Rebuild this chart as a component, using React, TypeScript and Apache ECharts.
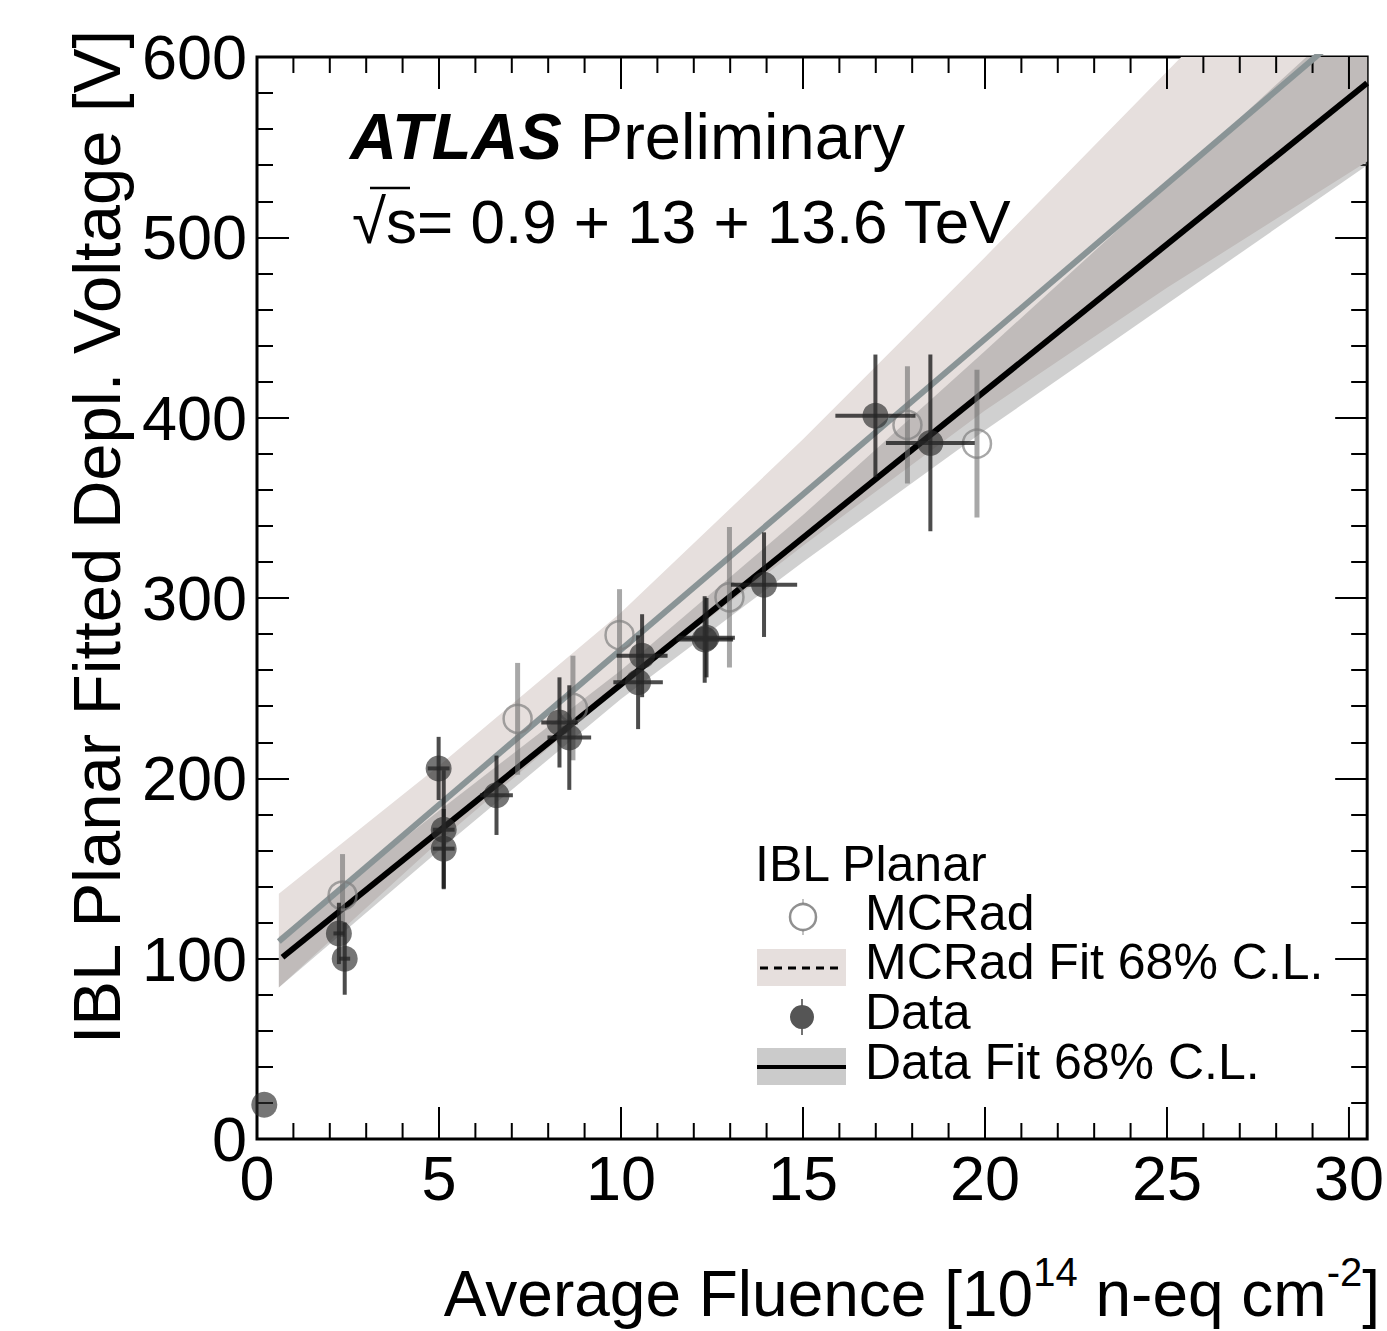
import React, { useEffect, useRef } from 'react';
import * as echarts from 'echarts';

const W = 1387;
const H = 1331;
const FONT = "'Liberation Sans', Arial, Helvetica, sans-serif";

// ---- data ----
// Data (filled markers)
const dataX = [0.2, 2.25, 2.41, 4.99, 5.13, 5.13, 6.58, 8.31, 8.58, 10.47, 10.58, 12.3, 12.35, 13.93, 16.99, 18.5];
const dataY = [19, 114, 100, 205.5, 171.5, 161, 190.6, 231, 222.6, 253.3, 268, 277, 278, 307.4, 401, 386];
const dataYErr = [0, 17, 20, 17.5, 33, 22, 22, 25, 29, 26, 23, 24, 22, 29, 34, 49];
const dataXErr = [0, 0.15, 0.15, 0.3, 0.3, 0.3, 0.45, 0.5, 0.6, 0.68, 0.7, 0.78, 0.78, 0.91, 1.1, 1.22];

// MCRad (open markers)
const mcX = [2.35, 7.16, 8.68, 9.96, 12.98, 17.87, 19.78];
const mcY = [135, 233, 239, 279.4, 300.4, 396, 385.6];
const mcYErr = [23, 31, 29, 25.5, 39, 32.5, 41];

// Fit lines (end points)
const dataFitX = [0.7, 30.5];
const dataFitY = [100.8, 585.6];
const mcFitX = [0.6, 30.5];
const mcFitY = [109.5, 624.4];

// 68% C.L. bands
const bandX = [0.6, 5, 10, 15, 20, 25, 30.5];
const mcUpper = [136, 207, 292, 388, 489, 592, 705];
const mcLower = [84, 165, 251, 329, 404, 472, 542];
const dataUpper = [112, 182, 260, 346, 437, 529, 631];
const dataLower = [84, 160, 244, 320, 393, 463, 540];

// axes
const xMin = 0;
const xMax = 30.5;
const yMin = 0;
const yMax = 600;
const xTickValues: number[] = [];
for (let v = 0; v <= 30; v += 1) xTickValues.push(v);

function clipPoly(pts: number[][], x0: number, y0: number, x1: number, y1: number) {
  const planes = [
    { inside: (p: number[]) => p[0] >= x0, inter: (a: number[], b: number[]) => { const t = (x0 - a[0]) / (b[0] - a[0]); return [x0, a[1] + t * (b[1] - a[1])]; } },
    { inside: (p: number[]) => p[0] <= x1, inter: (a: number[], b: number[]) => { const t = (x1 - a[0]) / (b[0] - a[0]); return [x1, a[1] + t * (b[1] - a[1])]; } },
    { inside: (p: number[]) => p[1] >= y0, inter: (a: number[], b: number[]) => { const t = (y0 - a[1]) / (b[1] - a[1]); return [a[0] + t * (b[0] - a[0]), y0]; } },
    { inside: (p: number[]) => p[1] <= y1, inter: (a: number[], b: number[]) => { const t = (y1 - a[1]) / (b[1] - a[1]); return [a[0] + t * (b[0] - a[0]), y1]; } },
  ];
  let out = pts;
  for (const pl of planes) {
    const inp = out;
    out = [];
    if (!inp.length) break;
    for (let i = 0; i < inp.length; i++) {
      const cur = inp[i];
      const prev = inp[(i + inp.length - 1) % inp.length];
      const ci = pl.inside(cur);
      const pi = pl.inside(prev);
      if (ci) {
        if (!pi) out.push(pl.inter(prev, cur));
        out.push(cur);
      } else if (pi) {
        out.push(pl.inter(prev, cur));
      }
    }
  }
  return out;
}

function bandSeries(upper: number[], lower: number[], fill: string, z: number) {
  return {
    type: 'custom',
    silent: true,
    z,
    data: [[bandX[0], upper[0]]],
    renderItem: (params: any, api: any) => {
      const cs = params.coordSys;
      const up = bandX.map((x, i) => api.coord([x, upper[i]]));
      const lo = bandX.map((x, i) => api.coord([x, lower[i]])).reverse();
      const pts = clipPoly(up.concat(lo), cs.x, cs.y, cs.x + cs.width, cs.y + cs.height);
      return { type: 'polygon', shape: { points: pts }, style: { fill } };
    },
  };
}

function errSeries(xs: number[], ys: number[], xe: number[], ye: number[], color: string, width: number, z: number) {
  return {
    type: 'custom',
    silent: true,
    clip: false,
    z,
    data: xs.map((x, i) => [x, ys[i], xe[i], ye[i]]),
    renderItem: (_params: any, api: any) => {
      const x = api.value(0);
      const y = api.value(1);
      const ex = api.value(2);
      const ey = api.value(3);
      const children: any[] = [];
      if (ey > 0) {
        const a = api.coord([x, y - ey]);
        const b = api.coord([x, y + ey]);
        children.push({ type: 'line', shape: { x1: a[0], y1: a[1], x2: b[0], y2: b[1] }, style: { stroke: color, lineWidth: width } });
      }
      if (ex > 0) {
        const a = api.coord([x - ex, y]);
        const b = api.coord([x + ex, y]);
        children.push({ type: 'line', shape: { x1: a[0], y1: a[1], x2: b[0], y2: b[1] }, style: { stroke: color, lineWidth: width } });
      }
      return { type: 'group', children };
    },
  };
}

const legendX = 757;
const legendTextX = 865;
const LEG_FS = 50;
const LEG_LH = 44;

function legendText(text: string, x: number, y: number) {
  return {
    type: 'text',
    x,
    y,
    z: 20,
    style: { text, fontSize: LEG_FS, lineHeight: LEG_LH, fontFamily: FONT, fill: '#000', verticalAlign: 'middle', textVerticalAlign: 'middle' },
  };
}

const option: any = {
  animation: false,
  backgroundColor: '#ffffff',
  grid: { left: 257, top: 57, right: 7, bottom: 192, show: true, borderColor: '#000', borderWidth: 3, backgroundColor: 'transparent' },
  xAxis: {
    type: 'value',
    min: xMin,
    max: xMax,
    interval: 5,
    axisLine: { show: false },
    axisTick: { show: false },
    minorTick: { show: false },
    splitLine: { show: false },
    axisLabel: {
      fontSize: 63,
      fontFamily: FONT,
      color: '#000',
      margin: 7,
      formatter: (v: number) => (Math.abs(v % 5) < 1e-9 ? String(v) : ''),
    },
  },
  yAxis: [
    {
      type: 'value',
      min: yMin,
      max: yMax,
      interval: 100,
      axisLine: { show: false },
      axisTick: { show: true, inside: true, length: 32, lineStyle: { color: '#000', width: 2 } },
      minorTick: { show: true, splitNumber: 5, length: 16, lineStyle: { color: '#000', width: 2 } },
      splitLine: { show: false },
      minorSplitLine: { show: false },
      axisLabel: { fontSize: 63, fontFamily: FONT, color: '#000', margin: 10 },
    },
    {
      type: 'value',
      position: 'right',
      min: yMin,
      max: yMax,
      interval: 100,
      axisLine: { show: false },
      axisTick: { show: true, inside: true, length: 32, lineStyle: { color: '#000', width: 2 } },
      minorTick: { show: true, splitNumber: 5, length: 16, lineStyle: { color: '#000', width: 2 } },
      splitLine: { show: false },
      axisLabel: { show: false },
    },
  ],
  series: [
    bandSeries(mcUpper, mcLower, '#e6dfdd', 1),
    bandSeries(dataUpper, dataLower, 'rgba(124,124,124,0.36)', 2),
    {
      type: 'custom',
      silent: true,
      clip: false,
      z: 3,
      data: xTickValues.map((v) => [v, v % 5 === 0 ? 1 : 0]),
      renderItem: (_params: any, api: any) => {
        const v = api.value(0);
        const major = api.value(1);
        const b = api.coord([v, yMin]);
        const t = api.coord([v, yMax]);
        const len = major ? 32 : 16;
        return {
          type: 'group',
          children: [
            { type: 'line', shape: { x1: b[0], y1: b[1], x2: b[0], y2: b[1] - len }, style: { stroke: '#000', lineWidth: 2 } },
            { type: 'line', shape: { x1: t[0], y1: t[1], x2: t[0], y2: t[1] + len }, style: { stroke: '#000', lineWidth: 2 } },
          ],
        };
      },
    },
    {
      type: 'line',
      z: 4,
      silent: true,
      symbol: 'none',
      data: mcFitX.map((x, i) => [x, mcFitY[i]]),
      lineStyle: { color: '#8a9496', width: 6 },
    },
    {
      type: 'line',
      z: 5,
      silent: true,
      symbol: 'none',
      data: dataFitX.map((x, i) => [x, dataFitY[i]]),
      lineStyle: { color: '#000', width: 6 },
    },
    errSeries(mcX, mcY, mcX.map(() => 0), mcYErr, 'rgba(110,110,110,0.6)', 5, 6),
    {
      type: 'scatter',
      z: 7,
      silent: true,
      clip: false,
      symbol: 'circle',
      symbolSize: 28,
      data: mcX.map((x, i) => [x, mcY[i]]),
      itemStyle: { color: 'rgba(0,0,0,0)', borderColor: 'rgba(125,125,125,0.85)', borderWidth: 2.5 },
    },
    errSeries(dataX, dataY, dataXErr, dataYErr, 'rgba(25,25,25,0.78)', 4, 8),
    {
      type: 'scatter',
      z: 9,
      silent: true,
      clip: false,
      symbol: 'circle',
      symbolSize: 26,
      data: dataX.map((x, i) => [x, dataY[i]]),
      itemStyle: { color: 'rgba(45,45,45,0.82)' },
    },
  ],
  graphic: [
    // axis titles
    {
      type: 'text',
      x: 1380,
      y: 1294,
      z: 20,
      style: {
        text: '{m|Average Fluence [10}{s|14}{m| n-eq cm}{s|-2}{m|]}',
        align: 'right',
        verticalAlign: 'middle',
        textAlign: 'right',
        textVerticalAlign: 'middle',
        fill: '#000',
        rich: {
          m: { fontSize: 64, fontFamily: FONT, lineHeight: 84, verticalAlign: 'middle', fill: '#000' },
          s: { fontSize: 40, fontFamily: FONT, lineHeight: 48, verticalAlign: 'top', fill: '#000' },
        },
      },
    },
    {
      type: 'text',
      x: 96,
      y: 30,
      rotation: Math.PI / 2,
      z: 20,
      style: {
        text: 'IBL Planar Fitted Depl. Voltage [V]',
        fontSize: 67,
        fontFamily: FONT,
        fill: '#000',
        align: 'right',
        verticalAlign: 'middle',
        textAlign: 'right',
        textVerticalAlign: 'middle',
      },
    },
    // ATLAS label
    {
      type: 'text',
      x: 350,
      y: 136,
      z: 20,
      style: {
        text: '{b|ATLAS}{n| Preliminary}',
        verticalAlign: 'middle',
        textVerticalAlign: 'middle',
        rich: {
          b: { fontSize: 65, fontFamily: FONT, fontWeight: 'bold', fontStyle: 'italic', fill: '#000' },
          n: { fontSize: 65, fontFamily: FONT, fill: '#000' },
        },
      },
    },
    {
      type: 'text',
      x: 352,
      y: 221,
      z: 20,
      style: {
        text: '\u221As= 0.9 + 13 + 13.6 TeV',
        fontSize: 62,
        fontFamily: FONT,
        fill: '#000',
        verticalAlign: 'middle',
        textVerticalAlign: 'middle',
      },
    },
    {
      type: 'line',
      z: 20,
      shape: { x1: 370, y1: 188, x2: 410, y2: 188 },
      style: { stroke: '#000', lineWidth: 2.5 },
    },
    // legend
    legendText('IBL Planar', 755, 864),
    { type: 'line', z: 20, shape: { x1: 803, y1: 899, x2: 803, y2: 935 }, style: { stroke: 'rgba(120,120,120,0.6)', lineWidth: 1.5 } },
    { type: 'circle', z: 21, shape: { cx: 803, cy: 917, r: 13 }, style: { fill: '#fff', stroke: 'rgba(125,125,125,0.85)', lineWidth: 2.5 } },
    legendText('MCRad', legendTextX, 913),
    { type: 'rect', z: 20, shape: { x: legendX, y: 949, width: 89, height: 37 }, style: { fill: '#e6dfdd' } },
    {
      type: 'line',
      z: 21,
      shape: { x1: legendX + 3, y1: 968, x2: legendX + 87, y2: 968 },
      style: { stroke: '#000', lineWidth: 3, lineDash: [8, 6] },
    },
    legendText('MCRad Fit 68% C.L.', legendTextX, 962),
    { type: 'line', z: 20, shape: { x1: 802, y1: 999, x2: 802, y2: 1035 }, style: { stroke: '#444', lineWidth: 1.5 } },
    { type: 'circle', z: 21, shape: { cx: 802, cy: 1017, r: 12 }, style: { fill: '#555' } },
    legendText('Data', legendTextX, 1012),
    { type: 'rect', z: 20, shape: { x: legendX, y: 1048, width: 89, height: 37 }, style: { fill: '#cbcbcb' } },
    { type: 'line', z: 21, shape: { x1: legendX, y1: 1067, x2: legendX + 89, y2: 1067 }, style: { stroke: '#000', lineWidth: 4 } },
    legendText('Data Fit 68% C.L.', legendTextX, 1062),
  ],
};

export default function App() {
  const ref = useRef<HTMLDivElement>(null);
  useEffect(() => {
    if (!ref.current) return;
    const chart = echarts.init(ref.current, null, { renderer: 'svg', width: W, height: H });
    chart.setOption(option);
    return () => chart.dispose();
  }, []);
  return <div ref={ref} style={{ position: 'absolute', left: 0, top: 0, width: W, height: H, background: '#fff' }} />;
}
